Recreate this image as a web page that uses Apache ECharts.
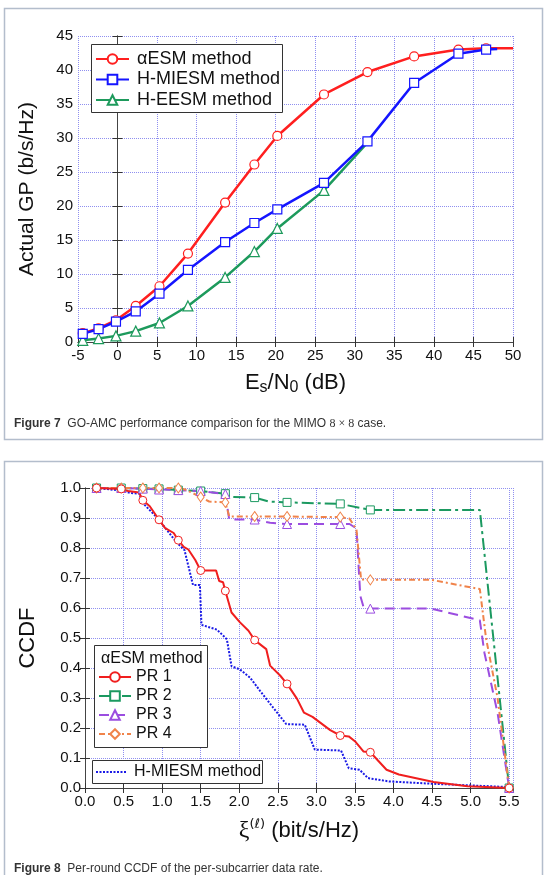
<!DOCTYPE html>
<html>
<head>
<meta charset="utf-8">
<title>GO-AMC figures</title>
<script src="https://cdn.jsdelivr.net/npm/echarts@6/dist/echarts.min.js"></script>
<style>
  html, body { margin: 0; padding: 0; background: #fff; }
  #main { width: 547px; height: 875px; }
</style>
</head>
<body>
<div id="main"></div>
<script>
// ---- Figure 7: actual GP vs Es/N0 ----
var snr      = [-4.4, -2.4, -0.2, 2.3, 5.3, 8.9, 13.6, 17.3, 20.2, 26.1, 31.6, 37.5, 43.1, 46.6];
var gpAlpha  = [1.3, 2.0, 3.2, 5.3, 8.2, 13.0, 20.5, 26.1, 30.3, 36.4, 39.7, 42.0, 43.0, 43.2];
var gpMiesm  = [1.2, 1.9, 3.0, 4.5, 7.1, 10.6, 14.7, 17.5, 19.5, 23.4, 29.5, 38.1, 42.4, 43.0];
var gpEesm   = [0.25, 0.5, 0.9, 1.6, 2.8, 5.3, 9.5, 13.3, 16.7, 22.3, 29.3];
// line ends without a marker
var alphaEnd = [50, 43.2];
var miesmEnd = [48, 43.1];

// ---- Figure 8: per-round CCDF ----
var markX = [0.15, 0.47, 0.75, 0.96, 1.21, 1.50, 1.82, 2.20, 2.62, 3.31, 3.70, 5.50];
var pr1 = [[0.15,1.0],[0.47,0.997],[0.56,0.99],[0.70,0.985],[0.75,0.959],[0.84,0.939],[0.96,0.894],[1.04,0.866],
  [1.15,0.85],[1.21,0.826],[1.28,0.804],[1.34,0.795],[1.43,0.76],[1.50,0.725],[1.70,0.725],[1.74,0.69],[1.79,0.686],
  [1.82,0.657],[1.90,0.585],[2.01,0.552],[2.12,0.524],[2.20,0.493],[2.35,0.463],[2.40,0.408],[2.53,0.375],[2.62,0.347],
  [2.75,0.297],[2.84,0.251],[2.95,0.237],[3.18,0.193],[3.31,0.175],[3.42,0.172],[3.50,0.156],[3.61,0.122],[3.70,0.119],
  [3.91,0.061],[4.07,0.045],[4.52,0.02],[4.96,0.006],[5.50,0.0]];
var pr2 = [[0.15,1.0],[0.47,1.0],[0.75,0.998],[0.96,0.997],[1.21,0.993],[1.50,0.99],[1.82,0.981],[1.88,0.97],
  [2.20,0.968],[2.38,0.955],[2.62,0.952],[3.31,0.947],[3.70,0.927],[5.12,0.927],[5.50,0.0]];
var pr3 = [[0.15,1.0],[0.47,1.0],[0.75,0.998],[0.96,0.995],[1.21,0.993],[1.50,0.99],[1.82,0.98],[1.87,0.895],
  [2.20,0.895],[2.40,0.884],[2.62,0.88],[3.31,0.88],[3.43,0.88],[3.52,0.865],[3.57,0.64],[3.61,0.605],[3.70,0.598],
  [4.49,0.598],[5.12,0.559],[5.18,0.45],[5.35,0.25],[5.50,0.0]];
var pr4 = [[0.15,1.0],[0.47,1.0],[0.75,1.0],[0.96,1.0],[1.21,1.0],[1.30,0.995],[1.50,0.97],[1.61,0.955],[1.82,0.952],
  [1.87,0.905],[2.20,0.905],[2.62,0.905],[3.31,0.903],[3.43,0.898],[3.52,0.862],[3.58,0.695],[3.70,0.694],[4.49,0.694],
  [5.12,0.663],[5.20,0.5],[5.35,0.3],[5.50,0.0]];
var miesmCcdf = [[0.15,1.0],[0.45,0.992],[0.60,0.983],[0.71,0.981],[0.73,0.955],[0.92,0.905],[1.01,0.877],[1.18,0.821],
  [1.29,0.793],[1.40,0.677],[1.49,0.677],[1.51,0.544],[1.62,0.535],[1.71,0.528],[1.80,0.506],[1.84,0.495],[1.90,0.406],
  [2.01,0.395],[2.14,0.368],[2.27,0.324],[2.44,0.268],[2.61,0.213],[2.85,0.211],[2.98,0.128],[3.32,0.125],[3.42,0.066],
  [3.56,0.061],[3.67,0.033],[3.94,0.022],[4.52,0.014],[5.50,0.003]];

var FONT = 'Liberation Sans, Arial, sans-serif';
var gridLine = { show: true, lineStyle: { color: '#8f8ff0', type: 'dotted', width: 1 } };
var axLine = { show: true, lineStyle: { color: '#444', width: 1 } };
var tick = { show: true, inside: true, length: 5, lineStyle: { color: '#333' } };

function withMarks(arr) {
  return arr.map(function (p) {
    return markX.indexOf(p[0]) >= 0 ? { value: p } : { value: p, symbol: 'none' };
  });
}
function zipAll(xs, ys, end) {
  var d = ys.map(function (y, i) { return { value: [xs[i], y] }; });
  if (end) d.push({ value: end, symbol: 'none' });
  return d;
}

var eesmData = zipAll(snr, gpEesm);
eesmData[eesmData.length - 1].symbol = 'none'; // hidden behind the blue square

var chart = echarts.init(document.getElementById('main'));
chart.setOption({
  animation: false,
  textStyle: { fontFamily: FONT },
  grid: [
    { left: 78, top: 36, width: 435, height: 306 },
    { left: 85, top: 488, width: 428, height: 300 }
  ],
  xAxis: [
    { gridIndex: 0, type: 'value', min: -5, max: 50, interval: 5, position: 'bottom',
      axisLine: axLine, axisTick: tick, splitLine: gridLine,
      axisLabel: { fontSize: 15, color: '#111', margin: 6 },
      name: '{m|E}{s|s}{m|/N}{s|0}{m| (dB)}', nameLocation: 'middle', nameGap: 28,
      nameTextStyle: { rich: {
        m: { fontSize: 22, color: '#111', lineHeight: 26 },
        s: { fontSize: 16, color: '#111', lineHeight: 16, padding: [12, 0, 0, 0], verticalAlign: 'bottom' }
      } } },
    { gridIndex: 0, type: 'value', min: -5, max: 50, interval: 5, position: 'top',
      axisLine: axLine, axisTick: tick, axisLabel: { show: false }, splitLine: { show: false } },
    { gridIndex: 1, type: 'value', min: 0, max: 5.55, interval: 0.5, position: 'bottom',
      axisLine: axLine, axisTick: tick, splitLine: gridLine,
      axisLabel: { fontSize: 15, color: '#111', margin: 6, showMaxLabel: false,
        formatter: function (v) { return v.toFixed(1); } },
      name: '{g|ξ}{p|(ℓ)}{m| (bit/s/Hz)}', nameLocation: 'middle', nameGap: 30,
      nameTextStyle: { rich: {
        g: { fontSize: 24, fontFamily: 'Liberation Serif', color: '#111', lineHeight: 26 },
        p: { fontSize: 13, fontFamily: 'DejaVu Sans', color: '#111', lineHeight: 13, padding: [0, 0, 14, 0], verticalAlign: 'top' },
        m: { fontSize: 22, color: '#111', lineHeight: 26 }
      } } },
    { gridIndex: 1, type: 'value', min: 0, max: 5.55, interval: 0.5, position: 'top',
      axisLine: axLine, axisTick: tick, axisLabel: { show: false }, splitLine: { show: false } }
  ],
  yAxis: [
    { gridIndex: 0, type: 'value', min: 0, max: 45, interval: 5, position: 'left',
      axisLine: axLine, axisTick: tick, splitLine: gridLine,
      axisLabel: { fontSize: 15, color: '#111', margin: 5 },
      name: 'Actual GP (b/s/Hz)', nameLocation: 'middle', nameGap: 40,
      nameTextStyle: { fontSize: 21, color: '#111' } },
    { gridIndex: 0, type: 'value', min: 0, max: 45, interval: 5, position: 'right',
      axisLine: axLine, axisTick: tick, axisLabel: { show: false }, splitLine: { show: false } },
    { gridIndex: 1, type: 'value', min: 0, max: 1, interval: 0.1, position: 'left',
      axisLine: axLine, axisTick: tick, splitLine: gridLine,
      axisLabel: { fontSize: 15, color: '#111', margin: 4, formatter: function (v) { return v.toFixed(1); } },
      name: 'CCDF', nameLocation: 'middle', nameGap: 46,
      nameTextStyle: { fontSize: 22, color: '#111' } },
    { gridIndex: 1, type: 'value', min: 0, max: 1, interval: 0.1, position: 'right',
      axisLine: axLine, axisTick: tick, axisLabel: { show: false }, splitLine: { show: false } }
  ],
  legend: [
    { data: ['αESM method', 'H-MIESM method', 'H-EESM method'], orient: 'vertical', left: 95, top: 49,
      itemWidth: 33, itemHeight: 12, itemGap: 0.5, padding: 0, z: 20, selectedMode: false,
      textStyle: { fontSize: 18, lineHeight: 20, color: '#111', padding: [0, 0, 0, 3] } },
    { data: ['PR 1', 'PR 2', 'PR 3', 'PR 4'], orient: 'vertical', left: 98, top: 667.5,
      itemWidth: 32, itemHeight: 12, itemGap: 0, padding: 0, z: 20, selectedMode: false,
      textStyle: { fontSize: 16, lineHeight: 19, color: '#111' } },
    { data: ['H-MIESM ccdf'], orient: 'vertical', left: 95, top: 762.5,
      itemWidth: 30, itemHeight: 11, padding: 0, z: 20, selectedMode: false,
      itemStyle: { opacity: 0 },
      formatter: function () { return 'H-MIESM method'; },
      textStyle: { fontSize: 16, lineHeight: 19, color: '#111', padding: [0, 0, 0, 3] } }
  ],
  graphic: [
    { type: 'rect', z: 1, shape: { x: 4.5, y: 8.5, width: 538, height: 431 },
      style: { fill: 'none', stroke: '#b3bdcc', lineWidth: 1.5 } },
    { type: 'rect', z: 1, shape: { x: 4.5, y: 461.5, width: 538, height: 440 },
      style: { fill: 'none', stroke: '#b3bdcc', lineWidth: 1.5 } },
    { type: 'rect', z: 10, shape: { x: 91.5, y: 44.5, width: 191, height: 68 },
      style: { fill: '#fff', stroke: '#333', lineWidth: 1 } },
    { type: 'rect', z: 10, shape: { x: 94.5, y: 645.5, width: 113, height: 102 },
      style: { fill: '#fff', stroke: '#333', lineWidth: 1 } },
    { type: 'rect', z: 10, shape: { x: 92.5, y: 760.5, width: 170, height: 23 },
      style: { fill: '#fff', stroke: '#333', lineWidth: 1 } },
    { type: 'text', z: 21, x: 101, y: 659,
      style: { text: 'αESM method', font: '16px ' + FONT, fill: '#111', verticalAlign: 'middle' } },
    { type: 'text', z: 21, x: 14, y: 424,
      style: { text: '{b|Figure 7}  GO-AMC performance comparison for the MIMO {s|8 × 8} case.',
        font: '12px ' + FONT, fill: '#333', verticalAlign: 'middle',
        rich: { b: { fontWeight: 'bold', fontSize: 12, fontFamily: FONT, fill: '#333' },
                s: { fontFamily: 'Liberation Serif', fontSize: 12, fill: '#333' } } } },
    { type: 'text', z: 21, x: 14, y: 869,
      style: { text: '{b|Figure 8}  Per-round CCDF of the per-subcarrier data rate.',
        font: '12px ' + FONT, fill: '#333', verticalAlign: 'middle',
        rich: { b: { fontWeight: 'bold', fontSize: 12, fontFamily: FONT, fill: '#333' } } } }
  ],
  series: [
    { name: 'αESM method', type: 'line', xAxisIndex: 0, yAxisIndex: 0, data: zipAll(snr, gpAlpha, alphaEnd),
      symbol: 'circle', symbolSize: 9, showAllSymbol: true,
      lineStyle: { color: '#ff1f1f', width: 2.5 },
      itemStyle: { color: '#fff', borderColor: '#ff1f1f', borderWidth: 1.2 } },
    { name: 'H-EESM method', type: 'line', xAxisIndex: 0, yAxisIndex: 0, data: eesmData,
      symbol: 'triangle', symbolSize: 10, showAllSymbol: true,
      lineStyle: { color: '#1d9a5c', width: 2.5 },
      itemStyle: { color: '#fff', borderColor: '#1d9a5c', borderWidth: 1.2 } },
    { name: 'H-MIESM method', type: 'line', xAxisIndex: 0, yAxisIndex: 0, data: zipAll(snr, gpMiesm, miesmEnd),
      symbol: 'rect', symbolSize: 9, showAllSymbol: true,
      lineStyle: { color: '#1515ff', width: 2.5 },
      itemStyle: { color: '#fff', borderColor: '#1515ff', borderWidth: 1.2 } },

    { name: 'H-MIESM ccdf', type: 'line', xAxisIndex: 2, yAxisIndex: 2, data: miesmCcdf, symbol: 'none',
      lineStyle: { color: '#1a1ae6', width: 2, type: [2, 1.5] }, itemStyle: { color: '#1a1ae6' } },
    { name: 'PR 2', type: 'line', xAxisIndex: 2, yAxisIndex: 2, data: withMarks(pr2),
      symbol: 'rect', symbolSize: 8, showAllSymbol: true,
      lineStyle: { color: '#1b9960', width: 2, type: [12, 4, 3, 4] },
      itemStyle: { color: '#fff', borderColor: '#1b9960', borderWidth: 1 } },
    { name: 'PR 3', type: 'line', xAxisIndex: 2, yAxisIndex: 2, data: withMarks(pr3),
      symbol: 'triangle', symbolSize: 9, showAllSymbol: true,
      lineStyle: { color: '#9b4de0', width: 2, type: [10, 6] },
      itemStyle: { color: '#fff', borderColor: '#9b4de0', borderWidth: 1 } },
    { name: 'PR 4', type: 'line', xAxisIndex: 2, yAxisIndex: 2, data: withMarks(pr4),
      symbol: 'diamond', symbolSize: [7, 10], showAllSymbol: true,
      lineStyle: { color: '#f0834a', width: 2, type: [6, 3, 2, 3] },
      itemStyle: { color: '#fff', borderColor: '#f0834a', borderWidth: 1 } },
    { name: 'PR 1', type: 'line', xAxisIndex: 2, yAxisIndex: 2, data: withMarks(pr1),
      symbol: 'circle', symbolSize: 8, showAllSymbol: true,
      lineStyle: { color: '#f01e1e', width: 2 },
      itemStyle: { color: '#fff', borderColor: '#f01e1e', borderWidth: 1 } }
  ]
});
</script>
</body>
</html>
